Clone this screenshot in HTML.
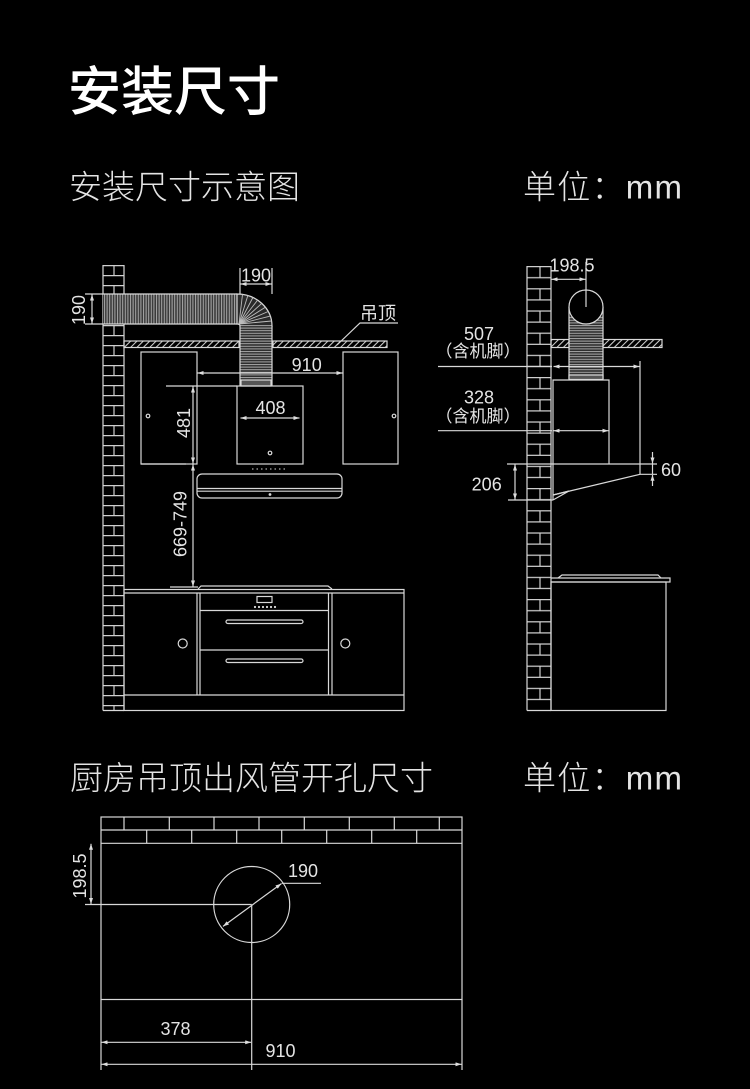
<!DOCTYPE html>
<html><head><meta charset="utf-8"><style>
html,body{margin:0;padding:0;background:#000;width:750px;height:1089px;overflow:hidden}
svg{display:block}
text{font-family:"Liberation Sans","Noto Sans CJK SC",sans-serif;fill:#e4e4e4}
</style></head><body>
<svg width="750" height="1089" viewBox="0 0 750 1089" xmlns="http://www.w3.org/2000/svg">
<defs>
<marker id="ar" viewBox="0 0 6 4" refX="6" refY="2" markerWidth="6" markerHeight="4" markerUnits="userSpaceOnUse" orient="auto-start-reverse"><path d="M0,0L6,2L0,4z" fill="#ddd"/></marker>
<pattern id="brkL" x="103" y="265" width="21" height="20" patternUnits="userSpaceOnUse"><path d="M0,0.6H21M0,10.6H21M11,0V10.6" stroke="#cfcfcf" stroke-width="1.2" fill="none"/></pattern>
<pattern id="brkR" x="527" y="266" width="24" height="22.2" patternUnits="userSpaceOnUse"><path d="M0,0.6H24M0,11.7H24M13,0V11.7" stroke="#cfcfcf" stroke-width="1.2" fill="none"/></pattern>
<pattern id="corrV" x="0" y="0" width="2.6" height="10" patternUnits="userSpaceOnUse"><rect width="2.6" height="10" fill="#3a3a3a"/><line x1="0.5" y1="0" x2="0.5" y2="10" stroke="#a8a8a8" stroke-width="1"/></pattern>
<pattern id="corrH" x="0" y="0" width="10" height="2.6" patternUnits="userSpaceOnUse"><rect width="10" height="2.6" fill="#2e2e2e"/><line x1="0" y1="0.5" x2="10" y2="0.5" stroke="#a8a8a8" stroke-width="1"/></pattern>
<pattern id="hatch" width="4.5" height="10" patternUnits="userSpaceOnUse" patternTransform="rotate(45)"><line x1="0.5" y1="0" x2="0.5" y2="10" stroke="#cfcfcf" stroke-width="1.1"/></pattern>
</defs>

<!-- Titles -->
<text x="68" y="110" font-size="53" font-weight="500" style="fill:#fff">安装尺寸</text>
<text x="69" y="198.5" font-size="33" font-weight="300">安装尺寸示意图</text>
<text x="523" y="198.5" font-size="33" font-weight="300" textLength="159" lengthAdjust="spacing">单位：mm</text>
<text x="70" y="789.5" font-size="33" font-weight="300">厨房吊顶出风管开孔尺寸</text>
<text x="523" y="789.5" font-size="33" font-weight="300" textLength="159" lengthAdjust="spacing">单位：mm</text>

<g stroke="#d9d9d9" stroke-width="1.2" fill="none">
<!-- ===== LEFT DIAGRAM ===== -->
<rect x="103" y="265" width="21" height="29" fill="url(#brkL)" stroke="none"/>
<rect x="103" y="324" width="21" height="386" fill="url(#brkL)" stroke="none"/>
<line x1="103" y1="265" x2="103" y2="710.5"/>
<line x1="124" y1="265" x2="124" y2="710.5"/>
<line x1="103" y1="710.5" x2="124" y2="710.5"/>
<rect x="103" y="294" width="134" height="30" fill="url(#corrV)" stroke="none"/>
<line x1="85" y1="294" x2="237" y2="294"/>
<line x1="85" y1="324" x2="237" y2="324"/>
<path d="M237,294 A35,32 0 0 1 272,326 L240,326 Q240,324 237,324 Z" fill="#2a2a2a"/>
<g stroke="#bdbdbd" stroke-width="0.9">
<line x1="239" y1="324" x2="242.5" y2="294.4"/>
<line x1="239" y1="324" x2="247.8" y2="295.6"/>
<line x1="239" y1="324" x2="252.9" y2="297.5"/>
<line x1="239" y1="324" x2="257.6" y2="300.1"/>
<line x1="239" y1="324" x2="261.7" y2="303.4"/>
<line x1="239" y1="324" x2="265.3" y2="307.2"/>
<line x1="239" y1="324" x2="268.2" y2="311.5"/>
<line x1="239" y1="324" x2="270.3" y2="316.1"/>
<line x1="239" y1="324" x2="271.6" y2="321"/>
</g>
<rect x="240" y="326" width="32" height="55" fill="url(#corrH)" stroke="none"/>
<line x1="240" y1="326" x2="240" y2="386"/>
<line x1="272" y1="326" x2="272" y2="386"/>
<rect x="241" y="380" width="30" height="6" fill="#555"/>
<line x1="240" y1="268" x2="240" y2="294"/>
<line x1="272" y1="268" x2="272" y2="294"/>
<line x1="240.5" y1="284" x2="271.5" y2="284" marker-start="url(#ar)" marker-end="url(#ar)"/>
<line x1="92" y1="294.5" x2="92" y2="323.5" marker-start="url(#ar)" marker-end="url(#ar)"/>
<rect x="124" y="341" width="115" height="6.5" fill="url(#hatch)"/>
<rect x="273" y="341" width="114" height="6.5" fill="url(#hatch)"/>
<polyline points="337,345 360,323 398,323"/>
<rect x="141" y="352" width="56" height="112"/>
<rect x="343" y="352" width="55" height="112"/>
<circle cx="148" cy="416" r="1.8"/>
<circle cx="394" cy="416" r="1.8"/>
<line x1="197.5" y1="373" x2="342.5" y2="373" marker-start="url(#ar)" marker-end="url(#ar)"/>
<rect x="237" y="386" width="66" height="78"/>
<circle cx="270" cy="453" r="1.8"/>
<line x1="240.5" y1="418" x2="299.5" y2="418" marker-start="url(#ar)" marker-end="url(#ar)"/>
<line x1="166" y1="386" x2="237" y2="386"/>
<line x1="186" y1="464" x2="141" y2="464"/>
<line x1="193" y1="386.5" x2="193" y2="463.5" marker-start="url(#ar)" marker-end="url(#ar)"/>
<line x1="193" y1="464.5" x2="193" y2="586.5" marker-start="url(#ar)" marker-end="url(#ar)"/>
<line x1="252" y1="469" x2="287" y2="469" stroke-dasharray="1.5 3" stroke-width="1"/>
<rect x="197" y="474" width="145" height="24" rx="5"/>
<line x1="197" y1="488.5" x2="342" y2="488.5"/>
<line x1="197" y1="491.2" x2="342" y2="491.2"/>
<circle cx="270" cy="494.5" r="0.8" fill="#ddd"/>
<line x1="170" y1="587" x2="198" y2="587"/>
<path d="M198,589 L201,586 H328 L332,589"/>
<rect x="124" y="589.5" width="280" height="121"/>
<line x1="124" y1="593" x2="404" y2="593"/>
<line x1="124" y1="695" x2="404" y2="695"/>
<line x1="197" y1="593" x2="197" y2="695"/>
<line x1="200" y1="593" x2="200" y2="695"/>
<line x1="328.5" y1="593" x2="328.5" y2="695"/>
<line x1="332" y1="593" x2="332" y2="695"/>
<line x1="200" y1="610.5" x2="328.5" y2="610.5"/>
<line x1="200" y1="650" x2="328.5" y2="650"/>
<rect x="257" y="596.5" width="15" height="6"/>
<g fill="#ddd" stroke="none">
<circle cx="255" cy="607" r="1.1"/><circle cx="259" cy="607" r="1.1"/><circle cx="263" cy="607" r="1.1"/>
<circle cx="267" cy="607" r="1.1"/><circle cx="271" cy="607" r="1.1"/><circle cx="275" cy="607" r="1.1"/>
</g>
<rect x="226" y="620" width="77" height="3.5" rx="1.75"/>
<rect x="226" y="659" width="77" height="3.5" rx="1.75"/>
<circle cx="182.7" cy="643.5" r="4.5"/>
<circle cx="345.3" cy="643.5" r="4.5"/>

<!-- ===== RIGHT DIAGRAM ===== -->
<rect x="527" y="266" width="24" height="444" fill="url(#brkR)" stroke="none"/>
<line x1="527" y1="266" x2="527" y2="710.5"/>
<line x1="551" y1="266" x2="551" y2="710.5"/>
<line x1="527" y1="710.5" x2="551" y2="710.5"/>
<rect x="569" y="316" width="34" height="59" fill="url(#corrH)" stroke="none"/>
<line x1="569" y1="307" x2="569" y2="379"/>
<line x1="603" y1="307" x2="603" y2="379"/>
<circle cx="586" cy="307" r="17" fill="#000"/>
<rect x="569" y="375" width="34" height="4.5" fill="#555"/>
<line x1="586" y1="262" x2="586" y2="307"/>
<line x1="551.5" y1="279.3" x2="585.5" y2="279.3" marker-start="url(#ar)" marker-end="url(#ar)"/>
<rect x="551" y="339.5" width="18" height="8" fill="url(#hatch)"/>
<rect x="603" y="339.5" width="59" height="8" fill="url(#hatch)"/>
<line x1="438" y1="366.5" x2="552" y2="366.5"/>
<line x1="553.5" y1="366.5" x2="639.5" y2="366.5" marker-start="url(#ar)" marker-end="url(#ar)"/>
<line x1="640" y1="361" x2="640" y2="474.5"/>
<polyline points="553,500 553,380 609,380 609,464"/>
<line x1="438" y1="430.7" x2="552" y2="430.7"/>
<line x1="553.5" y1="430.7" x2="608.5" y2="430.7" marker-start="url(#ar)" marker-end="url(#ar)"/>
<line x1="507" y1="464" x2="640" y2="464"/>
<line x1="640" y1="474.3" x2="553" y2="495"/>
<path d="M553,495 L569,491 L553,500"/>
<line x1="508" y1="500" x2="553" y2="500"/>
<line x1="515" y1="464.5" x2="515" y2="499.5" marker-start="url(#ar)" marker-end="url(#ar)"/>
<line x1="640" y1="474.3" x2="657" y2="474.3"/>
<line x1="640" y1="464" x2="657" y2="464"/>
<line x1="652.5" y1="452" x2="652.5" y2="463.5" marker-end="url(#ar)"/>
<line x1="652.5" y1="486" x2="652.5" y2="474.8" marker-end="url(#ar)"/>
<line x1="652.5" y1="464" x2="652.5" y2="474.3"/>
<path d="M551,578 H670 V582 H551"/>
<path d="M558,578 L562,575 H658 L661,578"/>
<rect x="551" y="582" width="115" height="128.5"/>

<!-- ===== BOTTOM DIAGRAM ===== -->
<rect x="101" y="817" width="361" height="182.5"/>
<line x1="101" y1="830" x2="462" y2="830"/>
<line x1="101" y1="843.3" x2="462" y2="843.3"/>
<path d="M124,817V830M169.3,817V830M214,817V830M259,817V830M304.3,817V830M349.3,817V830M394.3,817V830M439.3,817V830"/>
<path d="M146.7,830V843.3M191.7,830V843.3M236.7,830V843.3M281.7,830V843.3M326.7,830V843.3M371.7,830V843.3M416.7,830V843.3"/>
<line x1="91" y1="843.8" x2="91" y2="904" marker-start="url(#ar)" marker-end="url(#ar)"/>
<line x1="85" y1="904.5" x2="251.7" y2="904.5"/>
<circle cx="251.7" cy="904.5" r="38"/>
<line x1="223" y1="926.4" x2="281.4" y2="883.6" marker-start="url(#ar)" marker-end="url(#ar)"/>
<line x1="281.7" y1="883.3" x2="321" y2="883.3"/>
<line x1="251.7" y1="904.5" x2="251.7" y2="1070"/>
<line x1="101" y1="999.5" x2="101" y2="1070"/>
<line x1="462" y1="999.5" x2="462" y2="1070"/>
<line x1="101.5" y1="1042.3" x2="251.2" y2="1042.3" marker-start="url(#ar)" marker-end="url(#ar)"/>
<line x1="101.5" y1="1064.3" x2="461.5" y2="1064.3" marker-start="url(#ar)" marker-end="url(#ar)"/>
</g>

<!-- Labels -->
<g font-size="18">
<text x="256" y="281.5" text-anchor="middle">190</text>
<text transform="translate(85,310) rotate(-90)" text-anchor="middle">190</text>
<text x="360" y="319.5">吊顶</text>
<text x="306.7" y="371" text-anchor="middle">910</text>
<text x="270.5" y="414" text-anchor="middle">408</text>
<text transform="translate(190,423) rotate(-90)" text-anchor="middle">481</text>
<text transform="translate(186.5,524) rotate(-90)" text-anchor="middle">669-749</text>
<text x="572" y="271.5" text-anchor="middle">198.5</text>
<text x="479" y="340" text-anchor="middle">507</text>
<text x="479" y="403.3" text-anchor="middle">328</text>
<text x="486.7" y="490.5" text-anchor="middle">206</text>
<text x="671" y="476" text-anchor="middle">60</text>
<text transform="translate(86,876) rotate(-90)" text-anchor="middle">198.5</text>
<text x="303" y="877" text-anchor="middle">190</text>
<text x="175.5" y="1035" text-anchor="middle">378</text>
<text x="280.5" y="1057" text-anchor="middle">910</text>
</g>
<g font-size="17">
<text x="478" y="357" text-anchor="middle">（含机脚）</text>
<text x="478" y="422" text-anchor="middle">（含机脚）</text>
</g>
</svg>
</body></html>
